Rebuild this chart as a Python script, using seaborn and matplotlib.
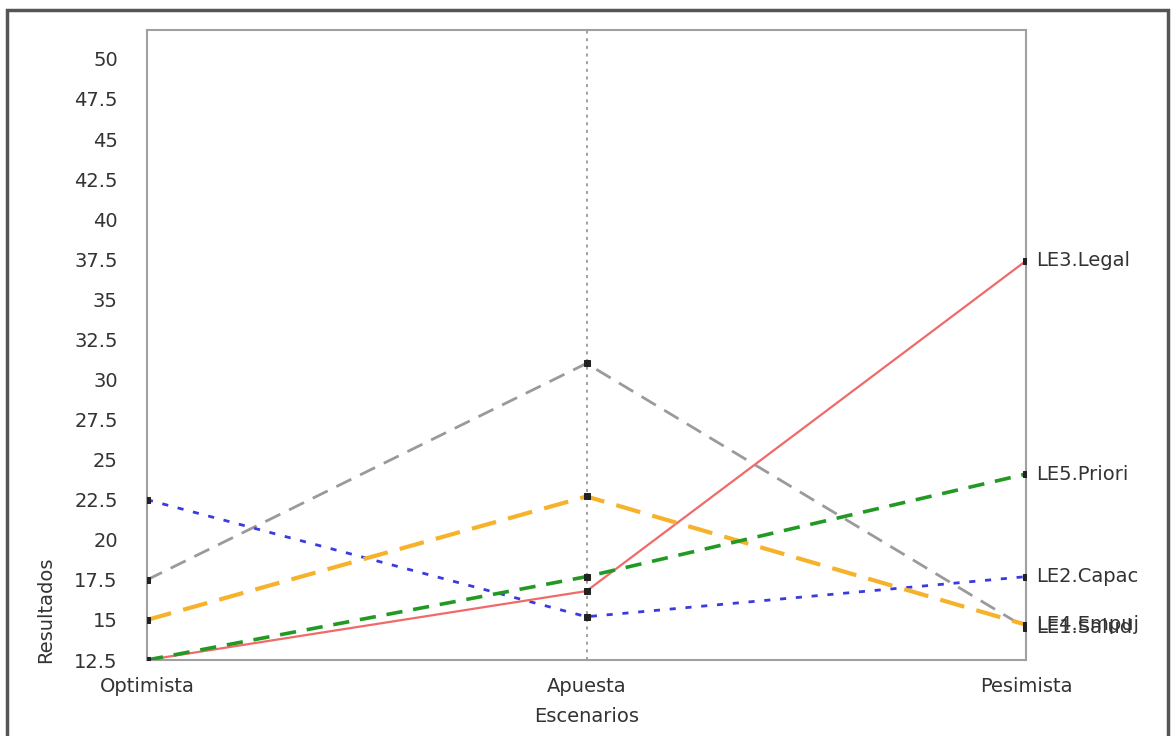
import matplotlib
matplotlib.use("Agg")
import matplotlib.pyplot as plt
import seaborn as sns
import pandas as pd
from matplotlib.patches import Rectangle

escenarios = ["Optimista", "Apuesta", "Pesimista"]
series = ["LE1.Salud", "LE2.Capac", "LE3.Legal", "LE4.Empuj", "LE5.Priori"]
le1_salud = [17.5, 31.0, 14.5]
le2_capac = [22.5, 15.2, 17.7]
le3_legal = [12.5, 16.8, 37.4]
le4_empuj = [15.0, 22.7, 14.7]
le5_priori = [12.5, 17.7, 24.1]
valores = [le1_salud, le2_capac, le3_legal, le4_empuj, le5_priori]
y_ticks = [12.5, 15, 17.5, 20, 22.5, 25, 27.5, 30, 32.5, 35, 37.5, 40, 42.5, 45, 47.5, 50]

rows = []
for s, vals in zip(series, valores):
    for i, (e, v) in enumerate(zip(escenarios, vals)):
        rows.append({"serie": s, "escenario": e, "pos": i, "valor": v})
df = pd.DataFrame(rows)

styles = {
    "LE1.Salud": dict(color="#9a9a9a", lw=2.0, dashes=(6, 3.5)),
    "LE2.Capac": dict(color="#3a3ae0", lw=2.0, dashes=(2.2, 3.5)),
    "LE3.Legal": dict(color="#f06a6a", lw=1.6, dashes=None),
    "LE4.Empuj": dict(color="#f5b22a", lw=3.0, dashes=(6, 3)),
    "LE5.Priori": dict(color="#229922", lw=2.6, dashes=(4.5, 3)),
}

sns.set_style("white")
plt.rcParams["font.family"] = ["DejaVu Sans"]
FS = 14

fig = plt.figure(figsize=(11.76, 7.36), dpi=100)
ax = fig.add_axes([147/1176, 1-660/736, (1026-147)/1176, (660-30)/736])

ax.axvline(1, color="#888888", lw=1.1, ls=(0, (2, 3)), zorder=1)

for s in series:
    st = styles[s]
    sub = df[df["serie"] == s]
    sns.lineplot(data=sub, x="pos", y="valor", ax=ax, marker="s", markersize=4,
                 markerfacecolor="#222222", markeredgecolor="#222222",
                 legend=False, zorder=3, color=st["color"], linewidth=st["lw"])
    ln = ax.lines[-1]
    if st["dashes"] is not None:
        ln.set_dashes(st["dashes"])
    last = sub.iloc[-1]
    ax.annotate(s, (last["pos"], last["valor"]), xytext=(7, 0),
                textcoords="offset points", va="center", ha="left",
                fontsize=FS, color="#333333", annotation_clip=False)

ax.set_xlim(0, 2)
ax.set_ylim(12.5, 51.8)
ax.set_xticks(range(len(escenarios)))
ax.set_xticklabels(escenarios)
ax.set_yticks(y_ticks)
ax.set_yticklabels([f"{t:g}" for t in y_ticks])
ax.tick_params(axis="x", length=0, pad=12, labelsize=FS, labelcolor="#333333")
ax.tick_params(axis="y", length=4, width=1, color="#999999", direction="out",
               pad=17, labelsize=FS, labelcolor="#333333")
ax.set_xlabel("Escenarios", fontsize=FS, color="#333333", labelpad=8)
ax.set_ylabel("Resultados", fontsize=FS, color="#333333")
ax.yaxis.set_label_coords(-0.104, 0.08)
for sp in ax.spines.values():
    sp.set_color("#a0a0a0")
    sp.set_linewidth(1.5)

fig.patches.append(Rectangle((7/1176, -0.1), (1168-7)/1176, (0.1 + 1 - 10/736),
                             transform=fig.transFigure, fill=False,
                             edgecolor="#555555", linewidth=2.5))

fig.savefig("out.png", dpi=100)
